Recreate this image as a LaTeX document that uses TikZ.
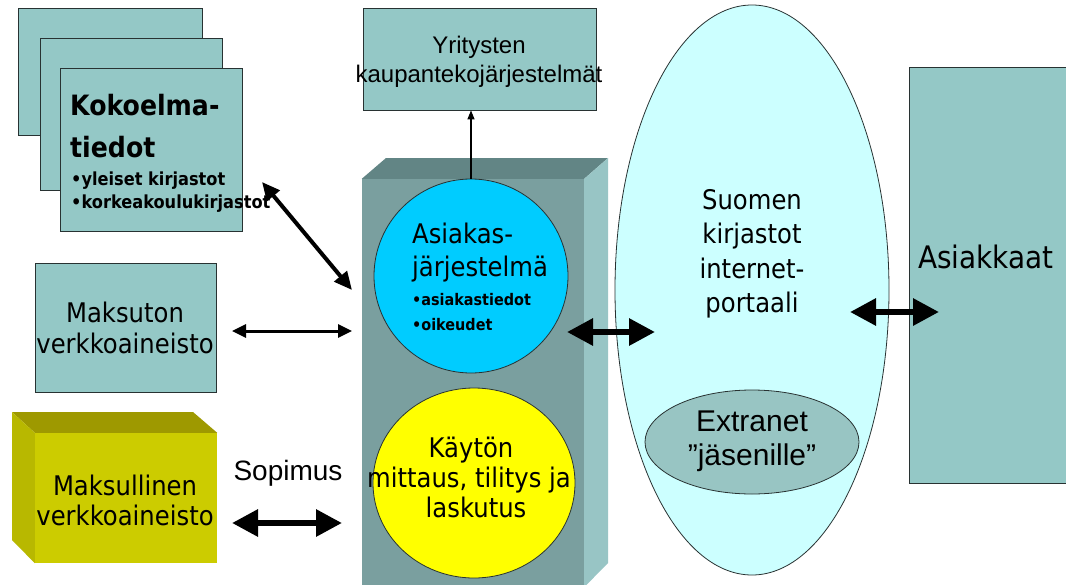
\documentclass[tikz,border=0pt]{standalone}
\usepackage{fontspec}
\setmainfont{Liberation Sans}
\newfontfamily\tah[FakeStretch=0.9]{DejaVu Sans}
\usetikzlibrary{arrows.meta,shapes.geometric}

\definecolor{boxteal}{RGB}{148,200,198}
\definecolor{cenfront}{RGB}{122,159,159}
\definecolor{centop}{RGB}{98,133,133}
\definecolor{censide}{RGB}{152,197,197}
\definecolor{clientcyan}{RGB}{0,204,255}
\definecolor{meteryellow}{RGB}{255,255,0}
\definecolor{ylwfront}{RGB}{204,204,0}
\definecolor{ylwtop}{RGB}{158,153,0}
\definecolor{ylwside}{RGB}{184,184,0}
\definecolor{portalcyan}{RGB}{204,255,255}
\definecolor{extragray}{RGB}{152,197,195}
\definecolor{edge}{RGB}{40,50,50}

\newcommand\setfs[1]{\fontsize{#1}{#1}\selectfont}

\tikzset{
  card/.style={rectangle, draw=edge, line width=0.8pt, fill=boxteal, inner sep=0pt},
  flat/.style={rectangle, inner sep=0pt},
  txt/.style={inner sep=0pt, text=black},
  disc/.style={draw=edge, line width=0.8pt, inner sep=0pt},
  bigarrow/.style={{Triangle[length=26pt,width=26pt]}-{Triangle[length=26pt,width=26pt]}, line width=6pt},
  midarrow/.style={{Triangle[length=14pt,width=13pt]}-{Triangle[length=14pt,width=13pt]}, line width=3pt},
  diagarrow/.style={{Triangle[length=18pt,width=16pt]}-{Triangle[length=18pt,width=16pt]}, line width=4pt},
  thinarrow/.style={-{Triangle[length=9pt,width=7pt]}, line width=1.2pt},
}

\begin{document}
\begin{tikzpicture}[x=1pt,y=-1pt]
\useasboundingbox (0,0) rectangle (1066,584);
\fill[white] (0,0) rectangle (1066,584);

% stacked collection cards
\node[card, minimum width=184pt, minimum height=127pt] (card1) at (110,71.5) {};
\node[card, minimum width=182pt, minimum height=152pt] (card2) at (131,114) {};
\node[card, minimum width=182pt, minimum height=163pt] (card3) at (151,149.5) {};
\node[txt, anchor=base west, font={\tah\bfseries\setfs{28}}] (kok1) at (70,115) {Kokoelma-};
\node[txt, anchor=base west, font={\tah\bfseries\setfs{28}}] (kok2) at (70,157) {tiedot};
\node[txt, anchor=base west, font={\tah\bfseries\setfs{18}}] (kok3) at (71,185) {•yleiset kirjastot};
\node[txt, anchor=base west, font={\tah\bfseries\setfs{18}}] (kok4) at (71,208) {•korkeakoulukirjastot};

% trading systems box
\node[card, minimum width=233pt, minimum height=102pt] (yrit) at (479.5,59) {};
\node[txt, anchor=base, font=\setfs{24}] (yrit1) at (479,53) {Yritysten};
\node[txt, anchor=base, font=\setfs{24}] (yrit2) at (479,82) {kaupantekojärjestelmät};

% free online material
\node[card, minimum width=181pt, minimum height=129pt] (maks) at (125.5,327.5) {};
\node[txt, anchor=base, font={\tah\setfs{27}}] (maks1) at (125,322) {Maksuton};
\node[txt, anchor=base, font={\tah\setfs{27}}] (maks2) at (125,353) {verkkoaineisto};

% paid online material (yellow block)
\node[flat, fill=ylwfront, minimum width=182pt, minimum height=130pt] (mksl) at (126,498) {};
\fill[ylwtop] (12,412) -- (193,412) -- (mksl.north east) -- (mksl.north west) -- cycle;
\fill[ylwside] (12,412) -- (mksl.north west) -- (mksl.south west) -- (12,540) -- cycle;
\node[txt, anchor=base, font={\tah\setfs{27}}] (mksl1) at (125,495) {Maksullinen};
\node[txt, anchor=base, font={\tah\setfs{27}}] (mksl2) at (125,525) {verkkoaineisto};

\node[txt, anchor=base, font=\setfs{28}] (sopimus) at (288,480) {Sopimus};

% central block
\node[flat, fill=cenfront, minimum width=222pt, minimum height=408pt] (central) at (473,383) {};
\fill[centop] (central.north west) -- (386,158) -- (608,158) -- (central.north east) -- cycle;
\fill[censide] (central.north east) -- (608,158) -- (608,563) -- (central.south east) -- cycle;

% customer system
\node[disc, circle, fill=clientcyan, minimum size=194pt] (cyan) at (471,276) {};
\node[txt, anchor=base west, font={\tah\setfs{27}}] (asi1) at (412,243) {Asiakas-};
\node[txt, anchor=base west, font={\tah\setfs{27}}] (asi2) at (412,276) {järjestelmä};
\node[txt, anchor=base west, font={\tah\bfseries\setfs{16}}] (asi3) at (412,305) {•asiakastiedot};
\node[txt, anchor=base west, font={\tah\bfseries\setfs{16}}] (asi4) at (412,330) {•oikeudet};

% usage metering
\node[disc, ellipse, fill=meteryellow, minimum width=202pt, minimum height=190pt] (meter) at (474,483) {};
\node[txt, anchor=base, font={\tah\setfs{27}}] (met1) at (471,457) {Käytön};
\node[txt, anchor=base, font={\tah\setfs{27}}] (met2) at (469,487) {mittaus, tilitys ja};
\node[txt, anchor=base, font={\tah\setfs{27}}] (met3) at (476,517) {laskutus};

% portal
\node[disc, ellipse, fill=portalcyan, minimum width=274pt, minimum height=570pt] (portal) at (752,290) {};
\node[txt, anchor=base, font={\tah\setfs{27}}] (por1) at (752,209) {Suomen};
\node[txt, anchor=base, font={\tah\setfs{27}}] (por2) at (752,243) {kirjastot};
\node[txt, anchor=base, font={\tah\setfs{27}}] (por3) at (752,278) {internet-};
\node[txt, anchor=base, font={\tah\setfs{27}}] (por4) at (752,312) {portaali};
\node[disc, ellipse, fill=extragray, minimum width=214pt, minimum height=104pt] (extra) at (752,442) {};
\node[txt, anchor=base, font=\setfs{30}] (ext1) at (752,431) {Extranet};
\node[txt, anchor=base, font=\setfs{30}] (ext2) at (752,465) {"jäsenille”};

% customers
\node[card, minimum width=163pt, minimum height=416pt] (asiakkaat) at (990.5,275) {};
\node[txt, anchor=base west, font={\tah\setfs{31}}] (asiak) at (918,268) {Asiakkaat};

% connectors
\coordinate (kokEnd) at (262,182);
\coordinate (cenDiag) at (352,290);
\coordinate (maksEnd) at (232,331);
\coordinate (cenMaks) at (352,331);
\coordinate (mkslEnd) at (232,523);
\coordinate (cenMksl) at (342,523);
\coordinate (cenOut) at (567,332);
\coordinate (porIn) at (655,332);
\coordinate (porOut) at (850,312);
\coordinate (asiIn) at (939,312);

\draw[thinarrow] (cyan.north) -- (cyan.north |- yrit.south);
\draw[diagarrow] (kokEnd) -- (cenDiag);
\draw[midarrow] (maksEnd) -- (cenMaks);
\draw[bigarrow] (mkslEnd) -- (cenMksl);
\draw[bigarrow] (cenOut) -- (porIn);
\draw[bigarrow] (porOut) -- (asiIn);
\end{tikzpicture}
\end{document}
